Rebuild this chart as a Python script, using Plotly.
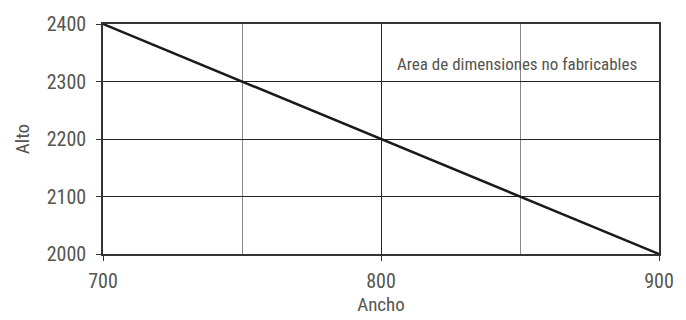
import plotly.graph_objects as go

ancho = [700, 900]
alto = [2400, 2000]
x_ticks = [700, 800, 900]
y_ticks = [2000, 2100, 2200, 2300, 2400]
note_text = "Area de dimensiones no fabricables"
note_x = 849
note_y = 2331

FONT = "Liberation Sans Narrow, Roboto Condensed, Arial Narrow, Roboto, sans-serif"
TXT = "#55554f"

fig = go.Figure()
fig.add_trace(go.Scatter(x=ancho, y=alto, mode="lines",
                         line=dict(color="#1a1a1a", width=2.5),
                         showlegend=False, hoverinfo="skip"))

fig.add_annotation(x=note_x, y=note_y, text=note_text, showarrow=False,
                   font=dict(family=FONT, size=17, color=TXT))

fig.update_layout(
    width=686, height=320,
    margin=dict(l=103, r=19, t=18, b=61),
    paper_bgcolor="white", plot_bgcolor="white",
    font=dict(family=FONT, color=TXT),
    xaxis=dict(range=[700, 900], tickvals=x_ticks, ticks="outside", ticklen=5,
               tickcolor="#333", showgrid=True, gridcolor="#222", gridwidth=1,
               minor=dict(dtick=50, showgrid=True, gridcolor="#888", gridwidth=1, ticks=""),
               showline=True, linecolor="#333", linewidth=1.5, mirror=True,
               zeroline=False, tickfont=dict(size=20, family=FONT, color=TXT),
               ticklabelstandoff=3,
               title=dict(text="Ancho", font=dict(size=19, family=FONT, color=TXT), standoff=2)),
    yaxis=dict(range=[2000, 2400], tickvals=y_ticks, ticks="outside", ticklen=5,
               tickcolor="#333", showgrid=True, gridcolor="#222", gridwidth=1,
               showline=True, linecolor="#333", linewidth=1.5, mirror=True,
               zeroline=False, tickfont=dict(size=20, family=FONT, color=TXT),
               ticklabelstandoff=6,
               title=dict(text="Alto", font=dict(size=19, family=FONT, color=TXT), standoff=12)),
)

fig.write_html("out.html", config={"displayModeBar": False})
with open("out.html", "r", encoding="utf-8") as f:
    html = f.read()
html = html.replace("<head>", "<head><style>html,body{margin:0;padding:0;}</style>", 1)
with open("out.html", "w", encoding="utf-8") as f:
    f.write(html)
